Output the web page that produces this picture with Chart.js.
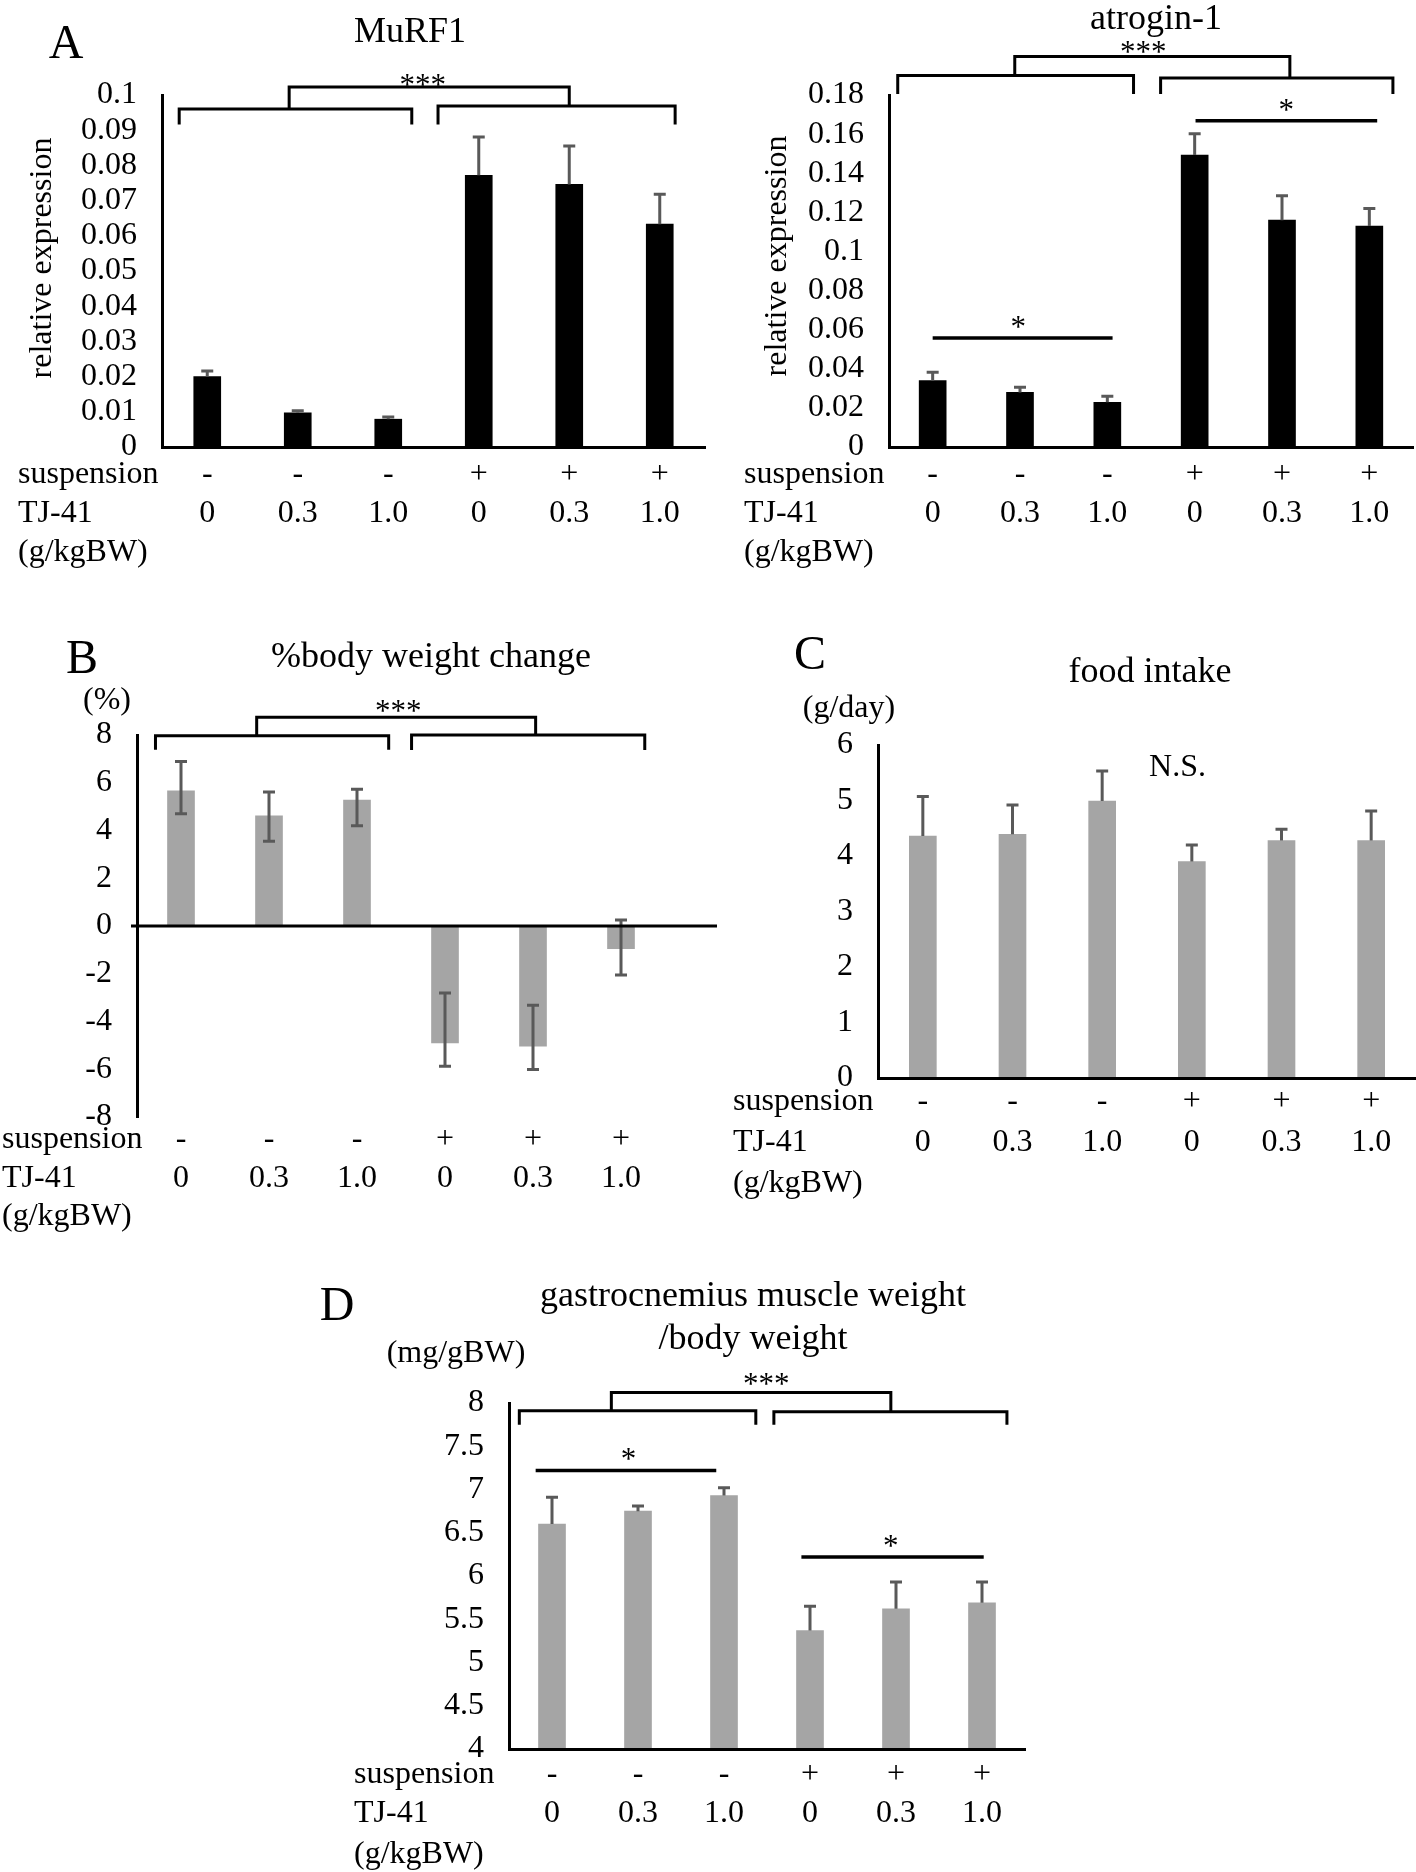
<!DOCTYPE html>
<html>
<head>
<meta charset="utf-8">
<script src="https://cdn.jsdelivr.net/npm/chart.js@4.4.1/dist/chart.umd.min.js"></script>
<style>
  body { margin: 0; background: #fff; }
  #page { position: relative; width: 1416px; height: 1872px; overflow: hidden; background: #fff; }
  canvas { position: absolute; }
</style>
</head>
<body>
<div id="page">
  <canvas id="murf1"></canvas>
  <canvas id="atrogin"></canvas>
  <canvas id="bodyWeight"></canvas>
  <canvas id="food"></canvas>
  <canvas id="gastro"></canvas>
</div>
<script>
// groups (same for every panel)
const suspension = ['-', '-', '-', '+', '+', '+']
const tj41Dose = ['0', '0.3', '1.0', '0', '0.3', '1.0']
const rowHeads = ['suspension', 'TJ-41', '(g/kgBW)']

// A - MuRF1
const murf1Mean = [0.020, 0.0097, 0.0079, 0.0772, 0.0746, 0.0633]
const murf1Err = [0.0016, 0.0006, 0.0006, 0.0109, 0.0109, 0.0085]
const murf1Ticks = ['0', '0.01', '0.02', '0.03', '0.04', '0.05', '0.06', '0.07', '0.08', '0.09', '0.1']

// A - atrogin-1
const atroginMean = [0.034, 0.0279, 0.0229, 0.1493, 0.116, 0.113]
const atroginErr = [0.0042, 0.0026, 0.003, 0.0109, 0.0125, 0.009]
const atroginTicks = ['0', '0.02', '0.04', '0.06', '0.08', '0.1', '0.12', '0.14', '0.16', '0.18']

// B - %body weight change
const bodyMean = [5.66, 4.61, 5.27, -4.9, -5.03, -0.95]
const bodyErrUp = [1.23, 1.0, 0.46, 2.09, 1.71, 1.2]
const bodyErrDown = [0.96, 1.06, 1.07, 0.97, 0.98, 1.1]
const bodyTicks = ['-8', '-6', '-4', '-2', '0', '2', '4', '6', '8']

// C - food intake
const foodMean = [4.36, 4.39, 4.99, 3.9, 4.28, 4.28]
const foodErr = [0.71, 0.53, 0.54, 0.3, 0.2, 0.53]
const foodTicks = ['0', '1', '2', '3', '4', '5', '6']

// D - gastrocnemius muscle weight / body weight
const gastroMean = [6.6, 6.75, 6.93, 5.37, 5.62, 5.69]
const gastroErr = [0.31, 0.06, 0.09, 0.28, 0.31, 0.24]
const gastroTicks = ['4', '4.5', '5', '5.5', '6', '6.5', '7', '7.5', '8']

// significance marks, in (category index, value) units: [from, to, level, drop left, drop right]
const murf1Brackets = [[-0.31, 2.26, 0.0960, 0.0916, 0.0916], [2.55, 5.17, 0.0969, 0.0916, 0.0916], [0.905, 4.0, 0.1023, 0.0960, 0.0969]]
const murf1Marks = [[2.38, 0.1039, '***']]
const atroginBrackets = [[-0.40, 2.30, 0.190, 0.1805, 0.1805], [2.61, 5.27, 0.1887, 0.1805, 0.1805], [0.94, 4.09, 0.1997, 0.190, 0.1887]]
const atroginLines = [[3.01, 5.09, 0.1668], [0.0, 2.06, 0.0557]]
const atroginMarks = [[2.41, 0.204, '***'], [4.05, 0.1744, '*'], [0.98, 0.0632, '*']]
const bodyBrackets = [[-0.29, 2.36, 7.97, 7.38, 7.38], [2.62, 5.27, 8.0, 7.37, 7.37], [0.86, 4.03, 8.74, 7.97, 8.0]]
const bodyMarks = [[2.47, 9.17, '***']]
const foodMarks = [[2.84, 5.59, 'N.S.']]
const gastroBrackets = [[-0.38, 2.37, 7.91, 7.75, 7.75], [2.58, 5.29, 7.90, 7.75, 7.75], [0.69, 3.94, 8.12, 7.91, 7.90]]
const gastroLines = [[-0.19, 1.91, 7.22], [2.90, 5.02, 6.22]]
const gastroMarks = [[2.49, 8.27, '***'], [0.89, 7.40, '*'], [3.94, 6.39, '*']]

const SERIF = '"Liberation Serif", "Times New Roman", Times, serif'
const font = s => s + 'px ' + SERIF

function makePanel(p) {
    const cv = document.getElementById(p.id)
    const [ox, oy, w, h] = p.box
    const [L, T, R, B] = p.area
    cv.width = w
    cv.height = h
    cv.style.left = ox + 'px'
    cv.style.top = oy + 'px'

    const decor = {
        id: 'decor',
        afterDatasetsDraw(chart) {
            const { ctx, scales: { x, y } } = chart
            ctx.save()
            // error bars
            ctx.strokeStyle = '#595959'
            ctx.lineWidth = 3
            p.means.forEach((m, i) => {
                const cx = x.getPixelForValue(i)
                const yTop = y.getPixelForValue(m + p.errUp[i])
                const yBot = y.getPixelForValue(p.errDown ? m - p.errDown[i] : m)
                ctx.beginPath()
                ctx.moveTo(cx, yBot)
                ctx.lineTo(cx, yTop)
                ctx.moveTo(cx - 6, yTop)
                ctx.lineTo(cx + 6, yTop)
                if (p.errDown) {
                    ctx.moveTo(cx - 6, yBot)
                    ctx.lineTo(cx + 6, yBot)
                }
                ctx.stroke()
            })
            // zero line for the panel with negative values
            if (p.zeroLine) {
                const y0 = y.getPixelForValue(0)
                ctx.strokeStyle = '#000'
                ctx.beginPath()
                ctx.moveTo(chart.chartArea.left - 6, y0)
                ctx.lineTo(p.zeroLine - ox, y0)
                ctx.stroke()
            }
            ctx.restore()
        },
        afterDraw(chart) {
            const { ctx, scales: { x, y } } = chart
            const x0 = x.getPixelForValue(0)
            const step = x.getPixelForValue(1) - x0
            const X = i => x0 + i * step
            const Y = v => y.getPixelForValue(v)
            ctx.save()
            ctx.fillStyle = '#000'
            ctx.strokeStyle = '#000'

            // titles, letters, units
            p.texts.forEach(t => {
                ctx.save()
                ctx.font = font(t.size || 32)
                ctx.textAlign = t.align || 'center'
                ctx.textBaseline = 'middle'
                ctx.translate(t.x - ox, t.y - oy)
                if (t.rot) ctx.rotate(-Math.PI / 2)
                ctx.fillText(t.text, 0, 0)
                ctx.restore()
            })

            // group rows under the axis
            ctx.font = font(32)
            ctx.textBaseline = 'middle'
            ctx.textAlign = 'center'
            suspension.forEach((s, i) => {
                ctx.fillText(s, X(i), p.rows[0] - oy)
                ctx.fillText(tj41Dose[i], X(i), p.rows[1] - oy)
            })
            ctx.textAlign = 'left'
            rowHeads.forEach((s, k) => ctx.fillText(s, p.headX - ox, p.rows[k] - oy))

            // brackets
            const brackets = p.brackets || []
            ctx.lineWidth = 3
            brackets.forEach(([a, b, lv, d0, d1]) => {
                ctx.beginPath()
                ctx.moveTo(X(a), Y(d0))
                ctx.lineTo(X(a), Y(lv))
                ctx.lineTo(X(b), Y(lv))
                ctx.lineTo(X(b), Y(d1))
                ctx.stroke()
            })
            const lines = p.lines || []
            ctx.lineWidth = 3.5
            lines.forEach(([a, b, lv]) => {
                ctx.beginPath()
                ctx.moveTo(X(a), Y(lv))
                ctx.lineTo(X(b), Y(lv))
                ctx.stroke()
            })
            const marks = p.marks || []
            ctx.textAlign = 'center'
            marks.forEach(([a, v, s]) => {
                if (s.startsWith('*')) {
                    ctx.font = font(31)
                    ctx.textBaseline = 'alphabetic'
                    ctx.fillText(s, X(a), Y(v) + 14)
                } else {
                    ctx.font = font(32)
                    ctx.textBaseline = 'middle'
                    ctx.fillText(s, X(a), Y(v))
                }
            })
            ctx.restore()
        }
    }

    new Chart(cv, {
        type: 'bar',
        data: {
            labels: suspension.map((s, i) => s + ' ' + tj41Dose[i]),
            datasets: [{
                data: p.means,
                backgroundColor: p.color,
                barThickness: 27,
                borderWidth: 0
            }]
        },
        options: {
            responsive: false,
            animation: false,
            devicePixelRatio: 1,
            layout: { padding: { left: 0, top: T - oy, right: ox + w - R, bottom: oy + h - B } },
            plugins: { legend: { display: false }, tooltip: { enabled: false } },
            scales: {
                x: {
                    offset: true,
                    grid: { display: false, drawTicks: false, tickLength: 0 },
                    ticks: { display: false },
                    border: { display: !p.zeroLine, color: '#000', width: 3, z: 1 }
                },
                y: {
                    min: p.yMin,
                    max: p.yMax,
                    afterFit: s => { s.width = L - ox },
                    grid: { display: false, drawTicks: false, tickLength: 0 },
                    border: { display: true, color: '#000', width: 3, z: 1 },
                    ticks: {
                        stepSize: p.yStep,
                        autoSkip: false,
                        padding: 25,
                        color: '#000',
                        font: { family: SERIF, size: 32 },
                        callback: (v, i) => p.yTicks[i]
                    }
                }
            }
        },
        plugins: [decor]
    })
}

makePanel({
    id: 'murf1', box: [0, 0, 708, 600], area: [162, 95, 705, 447],
    yMin: 0, yMax: 0.1, yStep: 0.01, yTicks: murf1Ticks,
    means: murf1Mean, errUp: murf1Err, color: '#000',
    brackets: murf1Brackets, marks: murf1Marks,
    rows: [475, 514, 553], headX: 18,
    texts: [
        { text: 'A', x: 66, y: 45, size: 48 },
        { text: 'MuRF1', x: 410, y: 33, size: 36 },
        { text: 'relative expression', x: 43, y: 258, rot: true }
    ]
})

makePanel({
    id: 'atrogin', box: [708, 0, 708, 600], area: [889, 95, 1413, 447],
    yMin: 0, yMax: 0.18, yStep: 0.02, yTicks: atroginTicks,
    means: atroginMean, errUp: atroginErr, color: '#000',
    brackets: atroginBrackets, lines: atroginLines, marks: atroginMarks,
    rows: [475, 514, 553], headX: 744,
    texts: [
        { text: 'atrogin-1', x: 1156, y: 20, size: 36 },
        { text: 'relative expression', x: 778, y: 256, rot: true }
    ]
})

makePanel({
    id: 'bodyWeight', box: [0, 600, 722, 650], area: [137, 735, 665, 1117],
    yMin: -8, yMax: 8, yStep: 2, yTicks: bodyTicks,
    means: bodyMean, errUp: bodyErrUp, errDown: bodyErrDown, color: '#a5a5a5',
    zeroLine: 717,
    brackets: bodyBrackets, marks: bodyMarks,
    rows: [1140, 1179, 1217], headX: 2,
    texts: [
        { text: 'B', x: 82, y: 660, size: 48 },
        { text: '%body weight change', x: 431, y: 658, size: 36 },
        { text: '(%)', x: 107, y: 701 }
    ]
})

makePanel({
    id: 'food', box: [708, 600, 708, 650], area: [878, 745, 1416, 1078],
    yMin: 0, yMax: 6, yStep: 1, yTicks: foodTicks,
    means: foodMean, errUp: foodErr, color: '#a5a5a5',
    marks: foodMarks,
    rows: [1102, 1143, 1184], headX: 733,
    texts: [
        { text: 'C', x: 810, y: 656, size: 48 },
        { text: 'food intake', x: 1150, y: 673, size: 36 },
        { text: '(g/day)', x: 849, y: 709 }
    ]
})

makePanel({
    id: 'gastro', box: [300, 1250, 800, 622], area: [509, 1403, 1025, 1749],
    yMin: 4, yMax: 8, yStep: 0.5, yTicks: gastroTicks,
    means: gastroMean, errUp: gastroErr, color: '#a5a5a5',
    brackets: gastroBrackets, lines: gastroLines, marks: gastroMarks,
    rows: [1775, 1814, 1855], headX: 354,
    texts: [
        { text: 'D', x: 337, y: 1307, size: 48 },
        { text: 'gastrocnemius muscle weight', x: 753, y: 1297, size: 36 },
        { text: '/body weight', x: 753, y: 1340, size: 36 },
        { text: '(mg/gBW)', x: 456, y: 1354 }
    ]
})
</script>
</body>
</html>
